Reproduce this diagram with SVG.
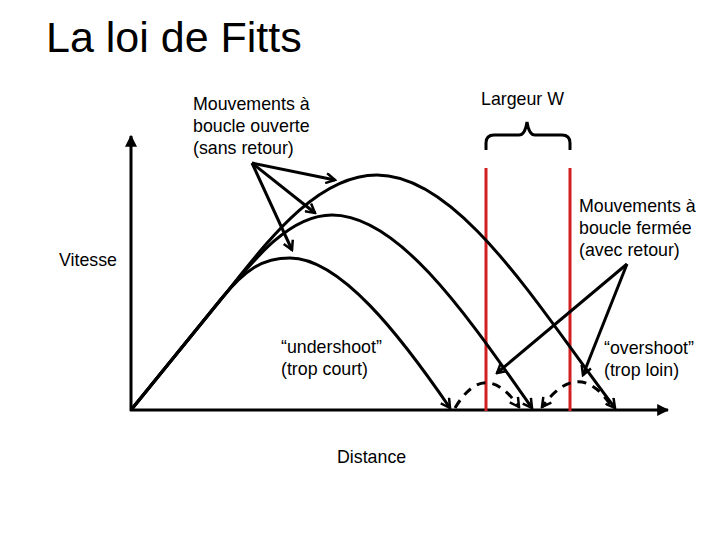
<svg xmlns="http://www.w3.org/2000/svg" width="720" height="540" viewBox="0 0 720 540">
<style>
text{font-family:"Liberation Sans",Arial,sans-serif;fill:#000}
.lbl{font-size:17.8px}
.ax{stroke:#000;stroke-width:3;fill:none}
.cv{stroke:#000;stroke-width:3;fill:none}
.ar{stroke:#000;stroke-width:3;fill:none;marker-end:url(#open)}
.ds{stroke:#000;stroke-width:3;fill:none;stroke-dasharray:9,7;marker-end:url(#open)}
.red{stroke:#d21f1f;stroke-width:3}
</style>
<defs>
<marker id="open" viewBox="0 0 12 12" refX="10" refY="6" markerWidth="12" markerHeight="12" markerUnits="userSpaceOnUse" orient="auto">
<path d="M1,1 L10,6 L1,11" fill="none" stroke="#000" stroke-width="2.5"/>
</marker>
<marker id="tri" viewBox="0 0 10 10" refX="9" refY="5" markerWidth="12" markerHeight="12" markerUnits="userSpaceOnUse" orient="auto">
<path d="M0,0 L10,5 L0,10 Z" fill="#000"/>
</marker>
</defs>
<g id="title"><text x="46" y="52" font-size="43">La loi de Fitts</text></g>
<g id="axes">
<line class="ax" x1="131" y1="411" x2="131" y2="136" marker-end="url(#tri)"/>
<line class="ax" x1="130" y1="410" x2="668" y2="410" marker-end="url(#tri)"/>
</g>
<g id="target">
<line class="red" x1="486" y1="168" x2="486" y2="411"/>
<line class="red" x1="570" y1="168" x2="570" y2="411"/>
<path class="cv" d="M486,150 L486,143 Q486,135 494,135 L519,135 Q525,135 527,122 Q529,135 535,135 L562,135 Q570,135 570,143 L570,150"/>
</g>
<g id="curves">
<path class="cv" d="M131,410 L222,298 C245,270 262,258 290,258 C340,258 400,335 450,408" marker-end="url(#open)"/>
<path class="cv" d="M131,410 L222,298 C255,258 290,215 332,215 C400,215 470,320 532,408" marker-end="url(#open)"/>
<path class="cv" d="M131,410 L222,298 C265,245 315,175 377,175 C460,175 540,310 615,408" marker-end="url(#open)"/>
<path class="ds" d="M455,408 Q485,358 519,407"/>
<path class="ds" d="M610,404 Q578,358 542,407"/>
</g>
<g id="connectors">
<line class="ar" x1="252" y1="163" x2="335" y2="180"/>
<line class="ar" x1="252" y1="163" x2="315" y2="213"/>
<line class="ar" x1="252" y1="163" x2="292" y2="250"/>
<line class="ar" x1="627" y1="264" x2="497" y2="373"/>
<line class="ar" x1="627" y1="264" x2="583" y2="375"/>
</g>
<g id="labels">
<text class="lbl" x="481" y="105">Largeur W</text>
<text class="lbl" x="193" y="110">Mouvements à</text>
<text class="lbl" x="193" y="132">boucle ouverte</text>
<text class="lbl" x="193" y="154">(sans retour)</text>
<text class="lbl" x="579" y="212">Mouvements à</text>
<text class="lbl" x="579" y="234">boucle fermée</text>
<text class="lbl" x="579" y="256">(avec retour)</text>
<text class="lbl" x="59" y="266">Vitesse</text>
<text class="lbl" x="281" y="353">“undershoot”</text>
<text class="lbl" x="281" y="375">(trop court)</text>
<text class="lbl" x="604" y="354">“overshoot”</text>
<text class="lbl" x="604" y="376">(trop loin)</text>
<text class="lbl" x="337" y="463">Distance</text>
</g>
</svg>
